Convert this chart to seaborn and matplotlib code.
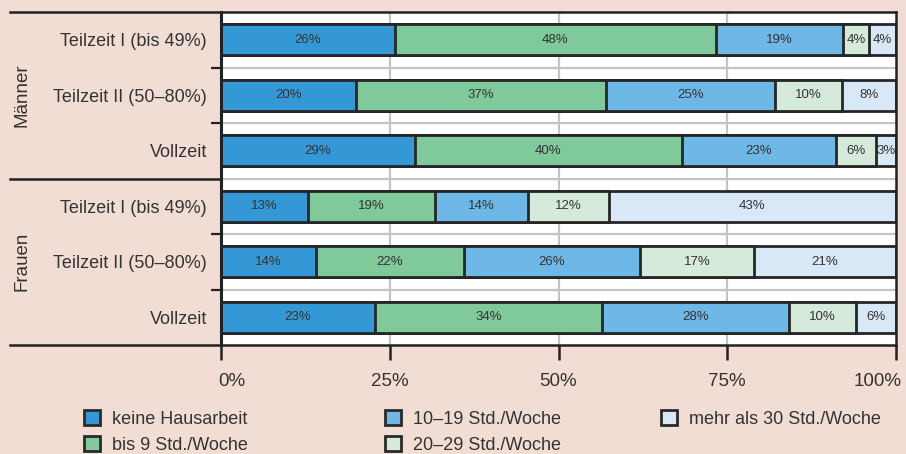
import numpy as np
import pandas as pd
import matplotlib
matplotlib.use("Agg")
import matplotlib.pyplot as plt
import matplotlib.transforms as mtransforms
from matplotlib.patches import Patch
from matplotlib.lines import Line2D
import seaborn as sns

# ---- data ----
groups = ["Männer", "Frauen"]
row_labels = ["Teilzeit I (bis 49%)", "Teilzeit II (50–80%)", "Vollzeit",
              "Teilzeit I (bis 49%)", "Teilzeit II (50–80%)", "Vollzeit"]
series = ["keine Hausarbeit", "bis 9 Std./Woche", "10–19 Std./Woche",
          "20–29 Std./Woche", "mehr als 30 Std./Woche"]
keine = [26, 20, 29, 13, 14, 23]
bis9 = [48, 37, 40, 19, 22, 34]
std10_19 = [19, 25, 23, 14, 26, 28]
std20_29 = [4, 10, 6, 12, 17, 10]
mehr30 = [4, 8, 3, 43, 21, 6]
x_ticks = [0, 25, 50, 75, 100]
x_ticklabels = ["0%", "25%", "50%", "75%", "100%"]

colors = ["#3398d5", "#80c99a", "#6db8e6", "#d6eadc", "#d9e8f6"]
bg = "#f2ddd5"
textc = "#333333"

vals = np.array([keine, bis9, std10_19, std20_29, mehr30], dtype=float)
shares = vals / vals.sum(axis=0) * 100  # rows sum to 100 for drawing
cum = np.cumsum(shares, axis=0)
keys = [f"r{i}" for i in range(len(row_labels))]

plt.rcParams["font.family"] = ["Liberation Sans", "DejaVu Sans"]

fig = plt.figure(figsize=(9.06, 4.54), dpi=100, facecolor=bg)
ax = fig.add_axes([221 / 906, 1 - 345 / 454, 675 / 906, 333 / 454])
ax.set_facecolor("white")

# gridlines first
for xv in [25, 50, 75]:
    ax.axvline(xv, color="#c4c4c4", lw=1.6, zorder=0)
for yv in [0.5, 1.5, 2.5, 3.5, 4.5]:
    ax.axhline(yv, color="#c4c4c4", lw=1.6, zorder=0)

for k in range(len(series) - 1, -1, -1):
    df = pd.DataFrame({"row": keys, "val": cum[k]})
    sns.barplot(data=df, x="val", y="row", orient="h", color=colors[k],
                saturation=1, edgecolor="#262626", linewidth=2.0,
                width=0.56, errorbar=None, ax=ax, zorder=2)

# segment labels
for k in range(len(series)):
    for i in range(len(keys)):
        left = cum[k][i] - shares[k][i]
        ax.text(left + shares[k][i] / 2, i, f"{int(vals[k][i])}%",
                ha="center", va="center", fontsize=9.5, color=textc,
                family=["Liberation Sans", "DejaVu Sans"], zorder=5)

ax.set_xlim(0, 100)
ax.set_ylim(5.5, -0.5)
ax.set_xlabel("")
ax.set_ylabel("")
ax.set_xticks(x_ticks)
ax.set_xticklabels(x_ticklabels, fontsize=13.5, color=textc)
ax.tick_params(axis="x", length=11, width=1.8, color="#222222", pad=9)
xl = ax.get_xticklabels()
xl[0].set_horizontalalignment("left")
xl[0].set_transform(xl[0].get_transform() +
                    mtransforms.ScaledTranslation(-3 / 100, 0, fig.dpi_scale_trans))
xl[-1].set_horizontalalignment("right")
xl[-1].set_transform(xl[-1].get_transform() +
                     mtransforms.ScaledTranslation(6 / 100, 0, fig.dpi_scale_trans))

ax.set_yticks(range(len(keys)))
ax.set_yticklabels(row_labels, fontsize=13, color=textc)
ax.tick_params(axis="y", length=0, pad=10)
ax.set_yticks([0.5, 1.5, 3.5, 4.5], minor=True)
ax.tick_params(axis="y", which="minor", length=7, width=1.6, color="#222222")
ax.grid(False)

for s in ["left", "right", "top", "bottom"]:
    ax.spines[s].set_visible(True)
    ax.spines[s].set_color("#222222")
    ax.spines[s].set_linewidth(1.8)
    ax.spines[s].set_zorder(6)
ax.spines["left"].set_linewidth(2.2)

# horizontal lines extending to the left
x0 = (10 - 221) / 675
for yv in [-0.5, 2.5, 5.5]:
    ax.add_line(Line2D([x0, 0], [yv, yv], transform=ax.get_yaxis_transform(),
                       color="#222222", lw=1.8, clip_on=False))

# group labels
ax.text((22 - 221) / 675, 1.0, groups[0], rotation=90, ha="center", va="center",
        fontsize=13.5, color=textc, transform=ax.get_yaxis_transform())
ax.text((22 - 221) / 675, 4.0, groups[1], rotation=90, ha="center", va="center",
        fontsize=13.5, color=textc, transform=ax.get_yaxis_transform())

# legend
handles = [Patch(facecolor=c, edgecolor="#2a2a2a", linewidth=2.0) for c in colors]
cols = [[0, 1], [2, 3], [4]]
xs = [84, 385, 661]
for idxs, xp in zip(cols, xs):
    leg = fig.legend([handles[i] for i in idxs], [series[i] for i in idxs],
                     loc="upper left", bbox_to_anchor=(xp / 906, 1 - 410 / 454),
                     frameon=False, borderpad=0, borderaxespad=0,
                     handlelength=0.9, handleheight=0.9, handletextpad=0.65,
                     labelspacing=0.45,
                     prop={"family": ["Liberation Sans", "DejaVu Sans"],
                           "size": 13})
    for t in leg.get_texts():
        t.set_color(textc)

fig.savefig("out.png", dpi=100, facecolor=bg)
